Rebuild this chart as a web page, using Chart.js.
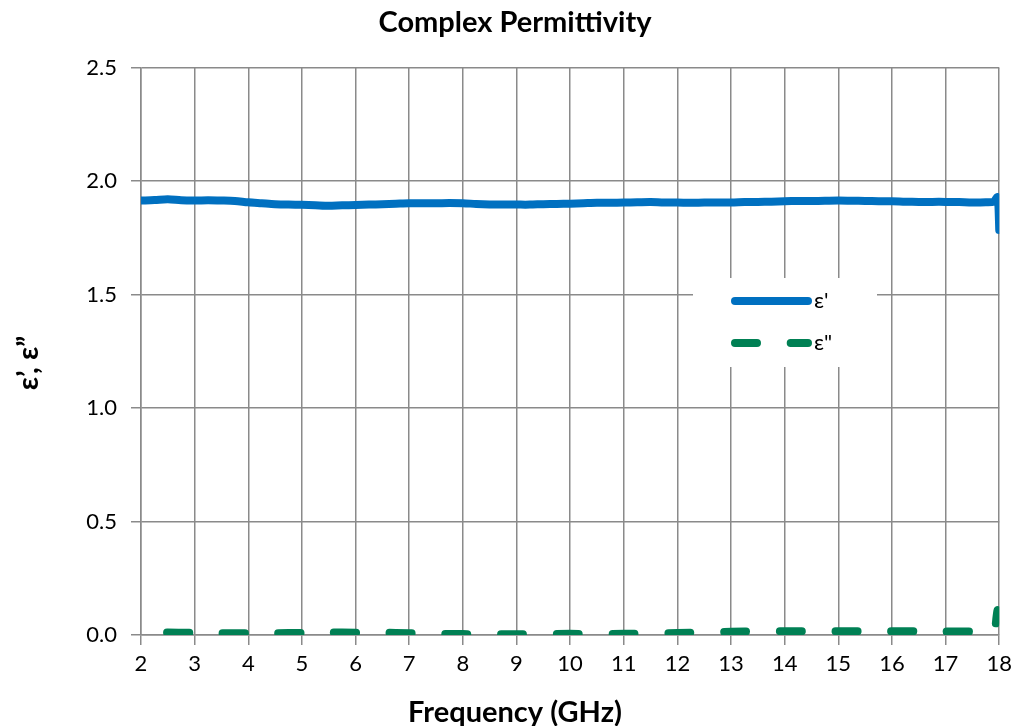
<!DOCTYPE html>
<html>
<head>
<meta charset="utf-8">
<script src="https://cdn.jsdelivr.net/npm/chart.js@4"></script>
<style>
  html, body { margin: 0; padding: 0; background: #fff; }
  #wrap { width: 1018px; height: 726px; }
</style>
</head>
<body>
<div id="wrap"><canvas id="permChart" width="1018" height="726"></canvas></div>
<script>
var freqReal = [2.0, 2.25, 2.5, 2.75, 3.0, 3.25, 3.5, 3.75, 4.0, 4.25, 4.5, 4.75, 5.0, 5.25, 5.5, 5.75,
  6.0, 6.25, 6.5, 6.75, 7.0, 7.25, 7.5, 7.75, 8.0, 8.25, 8.5, 8.75, 9.0, 9.25, 9.5, 9.75,
  10.0, 10.25, 10.5, 10.75, 11.0, 11.25, 11.5, 11.75, 12.0, 12.25, 12.5, 12.75, 13.0, 13.25, 13.5, 13.75,
  14.0, 14.25, 14.5, 14.75, 15.0, 15.25, 15.5, 15.75, 16.0, 16.25, 16.5, 16.75, 17.0, 17.25, 17.5, 17.75,
  17.9, 17.96, 17.98, 18.0];
var epsReal = [1.915, 1.917, 1.921, 1.916, 1.915, 1.916, 1.915, 1.913, 1.907, 1.903, 1.899, 1.897, 1.896, 1.894, 1.892, 1.894,
  1.895, 1.897, 1.899, 1.901, 1.903, 1.903, 1.903, 1.904, 1.903, 1.900, 1.898, 1.897, 1.897, 1.897, 1.899, 1.900,
  1.901, 1.903, 1.905, 1.905, 1.906, 1.907, 1.908, 1.906, 1.906, 1.905, 1.906, 1.906, 1.906, 1.908, 1.909, 1.910,
  1.912, 1.913, 1.913, 1.914, 1.915, 1.914, 1.913, 1.912, 1.912, 1.910, 1.909, 1.909, 1.909, 1.908, 1.906, 1.907,
  1.910, 1.930, 1.915, 1.785];

var freqImag = [2.0, 2.5, 3.0, 3.5, 4.0, 4.5, 5.0, 5.5, 6.0, 6.5, 7.0, 7.5, 8.0, 8.5, 9.0, 9.5,
  10.0, 10.5, 11.0, 11.5, 12.0, 12.5, 13.0, 13.5, 14.0, 14.5, 15.0, 15.5, 16.0, 16.5, 17.0, 17.5,
  17.9, 17.92, 17.95, 17.97, 17.99, 18.0];
var epsImag = [0.010, 0.011, 0.009, 0.008, 0.008, 0.008, 0.009, 0.011, 0.010, 0.010, 0.008, 0.005, 0.004, 0.003, 0.003, 0.004,
  0.005, 0.004, 0.005, 0.007, 0.009, 0.012, 0.014, 0.016, 0.017, 0.017, 0.017, 0.017, 0.017, 0.016, 0.015, 0.015,
  0.016, 0.020, 0.080, 0.110, 0.100, 0.050];

var seriesNames = ["ε'", 'ε"'];
var xTicks = { min: 2, max: 18, step: 1 };
var yTicks = { min: 0, max: 2.5, step: 0.5 };

function toPoints(xs, ys) {
  return xs.map(function(x, i) { return { x: x, y: ys[i] }; });
}

var gridGray = '#8a8a8a';
var tickFont = { family: 'Lato', size: 22 };
var titleFont = { family: 'Lato', size: 29, weight: 'bold' };

// legend drawn by hand so it can sit inside the plot like the original
var boxLegend = {
  id: 'boxLegend',
  afterDatasetsDraw: function(chart, args, opts) {
    var ctx = chart.ctx;
    ctx.save();
    ctx.fillStyle = '#fff';
    ctx.fillRect(opts.x, opts.y, opts.w, opts.h);
    chart.data.datasets.forEach(function(ds, i) {
      var ly = opts.y + opts.firstRow + i * opts.rowGap;
      ctx.beginPath();
      ctx.strokeStyle = ds.borderColor;
      ctx.lineWidth = ds.borderWidth;
      ctx.lineCap = 'round';
      ctx.setLineDash(ds.borderDash || []);
      ctx.lineDashOffset = 0;
      ctx.moveTo(opts.x + opts.lineStart, ly);
      ctx.lineTo(opts.x + opts.lineEnd, ly);
      ctx.stroke();
      ctx.setLineDash([]);
      ctx.fillStyle = '#000';
      ctx.font = '22px Lato';
      ctx.textBaseline = 'middle';
      ctx.fillText(ds.label, opts.x + opts.lineEnd + 6, ly);
    });
    ctx.restore();
  }
};

// axis titles centred on the whole canvas, as the spreadsheet did
var axisTitles = {
  id: 'axisTitles',
  afterDraw: function(chart, args, opts) {
    var ctx = chart.ctx;
    ctx.save();
    ctx.fillStyle = '#000';
    ctx.font = 'bold 29px Lato';
    ctx.textAlign = 'center';
    ctx.textBaseline = 'alphabetic';
    ctx.fillText(opts.xText, opts.xCenter, opts.xBaseline);
    ctx.translate(opts.yBaseline, opts.yCenter);
    ctx.rotate(-Math.PI / 2);
    ctx.fillText(opts.yText, 0, 0);
    ctx.restore();
  }
};

var ctx = document.getElementById('permChart');
var permChart = new Chart(ctx, {
  type: 'line',
  data: {
    datasets: [{
      label: seriesNames[0],
      data: toPoints(freqReal, epsReal),
      borderColor: 'rgb(0, 112, 192)',
      borderWidth: 8,
      borderCapStyle: 'round',
      borderJoinStyle: 'round',
      pointRadius: 0,
      tension: 0.3
    }, {
      label: seriesNames[1],
      data: toPoints(freqImag, epsImag),
      borderColor: 'rgb(0, 128, 84)',
      borderWidth: 8,
      borderDash: [22, 33.7],
      borderDashOffset: 29.7,
      borderCapStyle: 'round',
      borderJoinStyle: 'round',
      pointRadius: 0,
      tension: 0.3
    }]
  },
  options: {
    responsive: false,
    animation: false,
    layout: { padding: { left: 29, right: 17, top: 0, bottom: 0 } },
    plugins: {
      legend: { display: false },
      tooltip: { enabled: false },
      title: {
        display: true,
        text: 'Complex Permittivity',
        color: '#000',
        font: titleFont,
        padding: { top: 5, bottom: 28 }
      },
      boxLegend: { x: 693, y: 278, w: 184, h: 89, firstRow: 23, rowGap: 42, lineStart: 42, lineEnd: 115 },
      axisTitles: {
        xText: 'Frequency (GHz)', xCenter: 515, xBaseline: 722,
        yText: 'ε’, ε”', yCenter: 363, yBaseline: 38
      }
    },
    scales: {
      x: {
        type: 'linear',
        min: xTicks.min,
        max: xTicks.max,
        afterFit: function(scale) { scale.height = 91; },
        ticks: { stepSize: xTicks.step, color: '#000', font: tickFont, padding: 6, maxRotation: 0 },
        grid: { color: gridGray, lineWidth: 1.5, tickLength: 10 },
        border: { color: gridGray, width: 1.5 }
      },
      y: {
        min: yTicks.min,
        max: yTicks.max,
        afterFit: function(scale) { scale.width = 112; },
        ticks: {
          stepSize: yTicks.step, color: '#000', font: tickFont, padding: 14,
          callback: function(v) { return v.toFixed(1); }
        },
        grid: { color: gridGray, lineWidth: 1.5, tickLength: 10 },
        border: { color: gridGray, width: 1.5 }
      }
    }
  },
  plugins: [boxLegend, axisTitles]
});
</script>
</body>
</html>
